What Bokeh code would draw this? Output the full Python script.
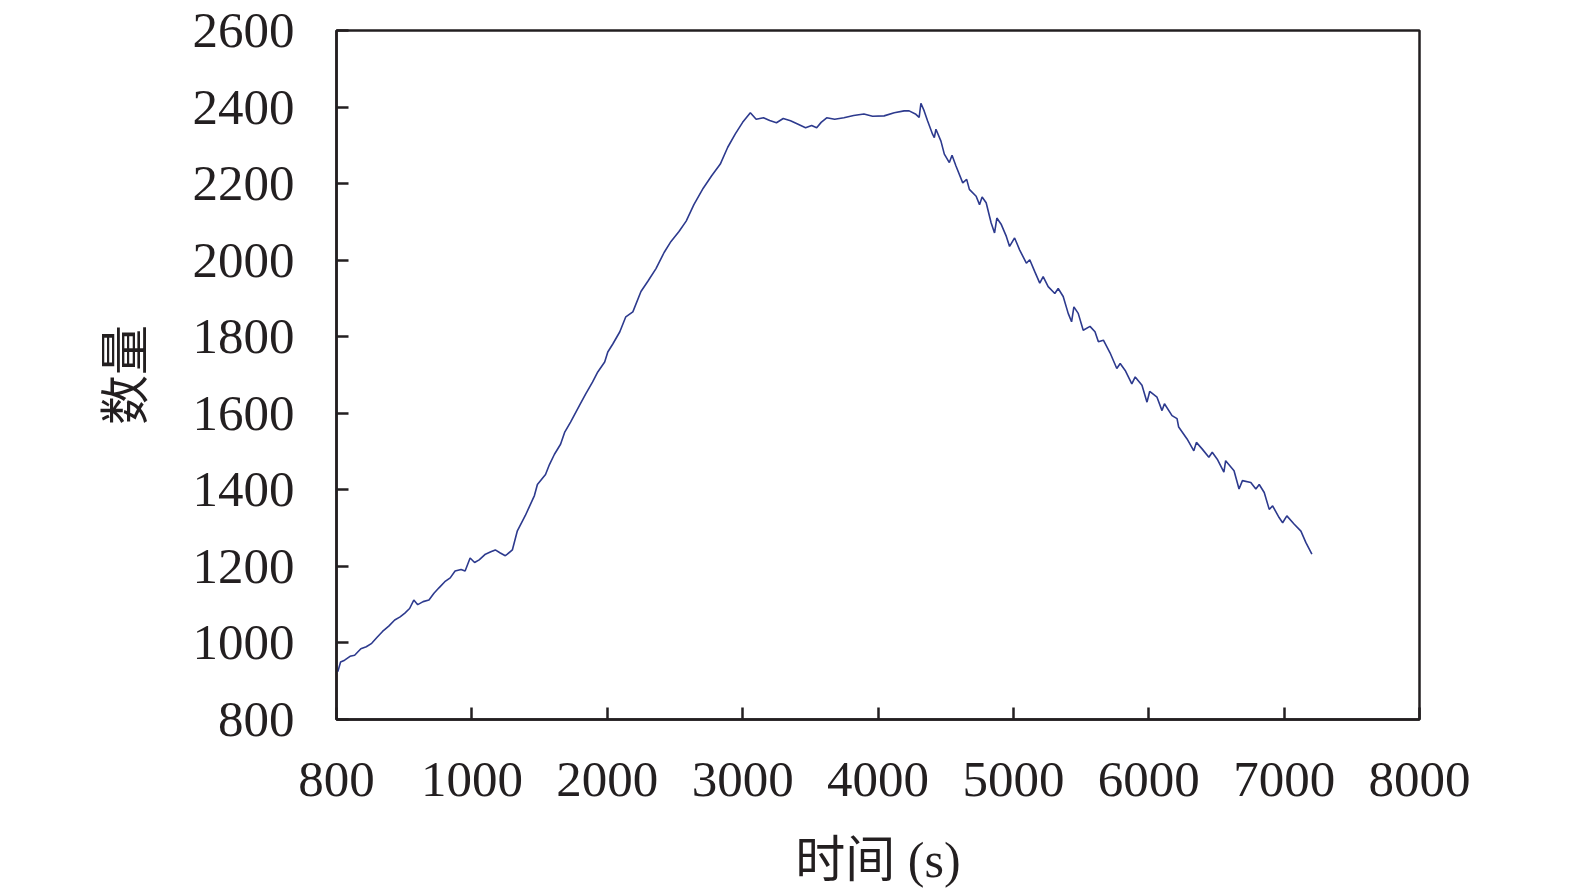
from bokeh.plotting import figure
from bokeh.models import FixedTicker, Range1d
from bokeh.embed import file_html
from bokeh.resources import INLINE

# ---- data ----
time_s = [0, 10, 30, 60, 100, 134, 180, 220, 260, 300, 340, 386, 430, 470, 505, 540,
          571, 600, 640, 683, 720, 757, 800, 840, 876, 920, 950, 987, 1020, 1054, 1100,
          1140, 1173, 1210, 1247, 1262, 1299, 1336, 1395, 1462, 1484, 1544, 1573, 1610,
          1655, 1685, 1729, 1796, 1840, 1892, 1930, 1981, 2004, 2041, 2093, 2137, 2189,
          2249, 2300, 2360, 2420, 2471, 2530, 2583, 2640, 2709, 2770, 2835, 2890, 2946,
          3000, 3057, 3100, 3154, 3200, 3250, 3300, 3354, 3410, 3465, 3510, 3547, 3580,
          3621, 3680, 3748, 3820, 3896, 3960, 4045, 4120, 4193, 4230, 4280, 4304,
          4317, 4341, 4366, 4403, 4416, 4428, 4465, 4490, 4527, 4547, 4576, 4626, 4655,
          4675, 4725, 4750, 4769, 4799, 4836, 4861, 4878, 4911, 4948, 4972, 5009, 5046,
          5096, 5121, 5158, 5195, 5220, 5257, 5306, 5331, 5368, 5405, 5430, 5447, 5479,
          5516, 5566, 5603, 5628, 5665, 5714, 5764, 5789, 5826, 5875, 5900, 5950, 5987,
          6007, 6061, 6098, 6116, 6172, 6209, 6221, 6283, 6333, 6352, 6394, 6444, 6469,
          6506, 6555, 6568, 6630, 6667, 6692, 6754, 6791, 6816, 6853, 6890, 6915, 6964,
          6989, 7020, 7075, 7124, 7161, 7205]
count = [930, 925, 950, 955, 965, 968, 985, 990, 999, 1015, 1030, 1044, 1060, 1068, 1078, 1090,
         1112, 1100, 1108, 1112, 1130, 1144, 1160, 1170, 1188, 1192, 1188, 1222, 1210, 1217, 1232,
         1238, 1243, 1235, 1228, 1232, 1243, 1293, 1333, 1385, 1414, 1440, 1466, 1493,
         1519, 1550, 1577, 1621, 1650, 1682, 1708, 1734, 1760, 1781, 1813, 1852, 1865,
         1918, 1945, 1978, 2020, 2049, 2075, 2102, 2145, 2188, 2220, 2251, 2295, 2330,
         2360, 2385, 2368, 2372, 2365, 2359, 2370, 2364, 2355, 2346, 2352, 2346, 2360,
         2372, 2368, 2372, 2378, 2382, 2376, 2377, 2385, 2390, 2390, 2381, 2373,
         2410, 2390, 2364, 2329, 2320, 2342, 2311, 2277, 2255, 2274, 2246, 2202, 2211,
         2185, 2167, 2145, 2165, 2150, 2097, 2071, 2110, 2093, 2062, 2036, 2058, 2027,
         1992, 2001, 1970, 1940, 1957, 1931, 1913, 1926, 1905, 1861, 1839, 1878, 1861,
         1817, 1827, 1813, 1787, 1791, 1758, 1717, 1730, 1712, 1677, 1695, 1673, 1629,
         1657, 1642, 1607, 1625, 1594, 1586, 1564, 1533, 1502, 1524, 1507, 1485, 1498,
         1480, 1446, 1476, 1450, 1402, 1424, 1419, 1402, 1414, 1393, 1349, 1358, 1327,
         1314, 1332, 1310, 1292, 1262, 1232]

x_ticks = [0, 1000, 2000, 3000, 4000, 5000, 6000, 7000, 8000]
x_tick_labels = ["800", "1000", "2000", "3000", "4000", "5000", "6000", "7000", "8000"]
y_ticks = [800, 1000, 1200, 1400, 1600, 1800, 2000, 2200, 2400, 2600]

x_title = "时间 (s)"
y_title = "数量"

# ---- figure ----
W, H = 1582, 894
FRAME_L, FRAME_R, FRAME_T, FRAME_B = 336, 1419, 30, 719

p = figure(width=W, height=H, output_backend="svg", toolbar_location=None,
           x_range=Range1d(0, 8000), y_range=Range1d(800, 2600),
           min_border_left=FRAME_L, min_border_right=W - FRAME_R,
           min_border_top=FRAME_T, min_border_bottom=H - FRAME_B)

ink = "#231f20"
serif = "'Liberation Serif', 'Noto Sans CJK SC', serif"

p.line(time_s, count, line_color="#2d3a8e", line_width=1.6)

p.grid.visible = False
p.outline_line_color = ink
p.outline_line_width = 2.5
p.background_fill_color = "white"
p.border_fill_color = "white"

p.xaxis.ticker = FixedTicker(ticks=x_ticks)
p.xaxis.major_label_overrides = {t: lab for t, lab in zip(x_ticks, x_tick_labels)}
p.yaxis.ticker = FixedTicker(ticks=y_ticks)

for ax in (p.xaxis[0], p.yaxis[0]):
    ax.axis_line_color = ink
    ax.axis_line_width = 2.5
    ax.major_tick_line_color = ink
    ax.major_tick_line_width = 2.5
    ax.major_tick_in = 12
    ax.major_tick_out = 0
    ax.minor_tick_line_color = None
    ax.major_label_text_font = serif
    ax.major_label_text_font_size = "51px"
    ax.major_label_text_color = ink
    ax.axis_label_text_font = serif
    ax.axis_label_text_font_size = "50px"
    ax.axis_label_text_font_style = "normal"
    ax.axis_label_text_color = ink

p.xaxis.major_label_standoff = 43
p.xaxis.axis_label = x_title
p.xaxis.axis_label_standoff = 33
p.yaxis.major_label_standoff = 42
p.yaxis.axis_label = y_title
p.yaxis.axis_label_standoff = 36

open("out.html", "w").write(file_html(p, INLINE))
